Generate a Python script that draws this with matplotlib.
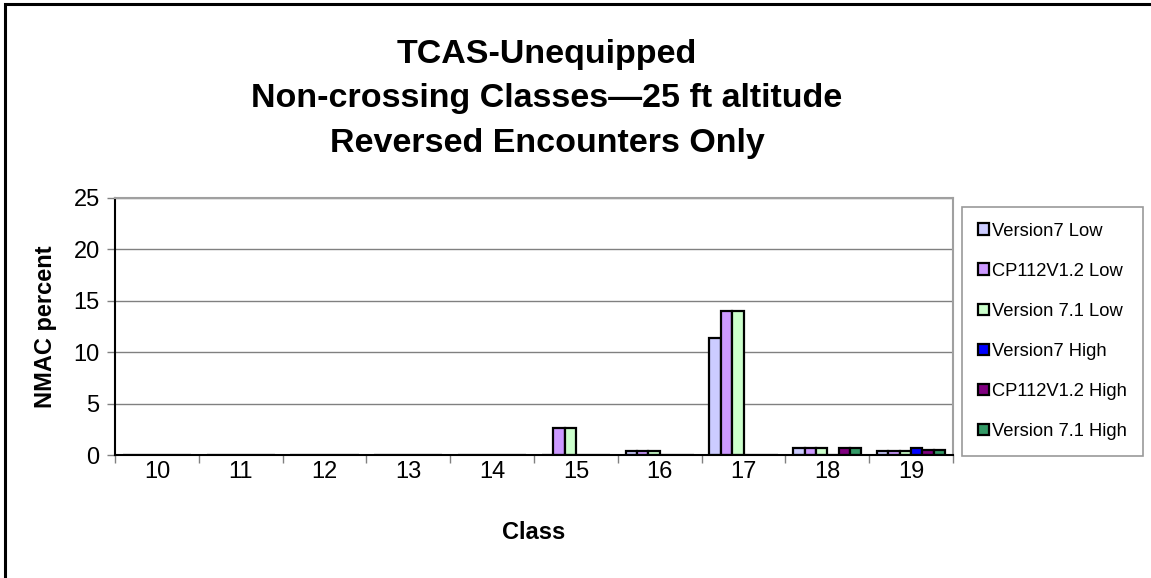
import matplotlib
matplotlib.use("Agg")
import matplotlib.pyplot as plt
import numpy as np
from matplotlib.patches import Rectangle

plt.rcParams['font.family'] = ['Liberation Sans', 'DejaVu Sans']

classes = ['10', '11', '12', '13', '14', '15', '16', '17', '18', '19']
series_names = ['Version7 Low', 'CP112V1.2 Low', 'Version 7.1 Low',
                'Version7 High', 'CP112V1.2 High', 'Version 7.1 High']
v7_low = [0, 0, 0, 0, 0, 0, 0.4, 11.4, 0.7, 0.4]
cp_low = [0, 0, 0, 0, 0, 2.6, 0.4, 14.0, 0.7, 0.4]
v71_low = [0, 0, 0, 0, 0, 2.6, 0.4, 14.0, 0.7, 0.4]
v7_high = [0, 0, 0, 0, 0, 0, 0, 0, 0, 0.7]
cp_high = [0, 0, 0, 0, 0, 0, 0, 0, 0.7, 0.5]
v71_high = [0, 0, 0, 0, 0, 0, 0, 0, 0.7, 0.5]
colors = ['#CCCCFF', '#CC99FF', '#CCFFCC', '#0000FF', '#800080', '#339966']
all_series = [v7_low, cp_low, v71_low, v7_high, cp_high, v71_high]

W, H = 1151, 578
fig = plt.figure(figsize=(W / 100, H / 100), dpi=100)
ax = fig.add_axes([115 / W, 1 - 455 / H, (953 - 115) / W, (455 - 198) / H])

x = np.arange(len(classes))
bw = 0.1355
handles = []
for i, (vals, c, name) in enumerate(zip(all_series, colors, series_names)):
    off = (i - 2.5) * bw
    b = ax.bar(x + off, vals, width=bw, color=c, edgecolor='black',
               linewidth=1.6, label=name, zorder=3)
    handles.append(b)

ax.set_xlim(-0.5, len(classes) - 0.5)
ax.set_ylim(0, 25)
ax.set_yticks([0, 5, 10, 15, 20, 25])
ax.yaxis.grid(True, color='#808080', linewidth=1.0, zorder=0)
ax.set_xticks(x)
ax.set_xticklabels(classes, fontsize=17)
ax.set_xticks(np.arange(len(classes) + 1) - 0.5, minor=True)
ax.tick_params(axis='x', which='major', length=0, pad=4)
ax.tick_params(axis='x', which='minor', length=6, width=1, color='#808080')
ax.tick_params(axis='y', labelsize=17, length=6, width=1, color='#808080', pad=5)
for s in ['top', 'right']:
    ax.spines[s].set_color('#A0A0A0')
    ax.spines[s].set_linewidth(1.5)
for s in ['left', 'bottom']:
    ax.spines[s].set_color('black')
    ax.spines[s].set_linewidth(1.5)
ax.spines['bottom'].set_zorder(4)

ax.set_xlabel('Class', fontsize=17, fontweight='bold', labelpad=28)
ax.set_ylabel('NMAC percent', fontsize=17, fontweight='bold', labelpad=12)

fig.text(547 / W, 1 - 99 / H,
         'TCAS-Unequipped\nNon-crossing Classes\u201425 ft altitude\nReversed Encounters Only',
         ha='center', va='center', fontsize=24.5, fontweight='bold', linespacing=1.55)

leg = fig.legend(handles=handles, loc='upper left',
                 bbox_to_anchor=(962 / W, 1 - 207 / H), fontsize=13.2,
                 frameon=True, fancybox=False, edgecolor='#808080',
                 handlelength=0.6, handleheight=0.6, handletextpad=0.2,
                 labelspacing=1.26, borderpad=0.85, borderaxespad=0)
leg.get_frame().set_linewidth(1.2)

fig.patches.append(Rectangle((5 / W, -0.5), 2.0, 1.5 - 4 / H,
                             transform=fig.transFigure, fill=False,
                             edgecolor='black', linewidth=2.2))

fig.savefig('out.png', dpi=100)
